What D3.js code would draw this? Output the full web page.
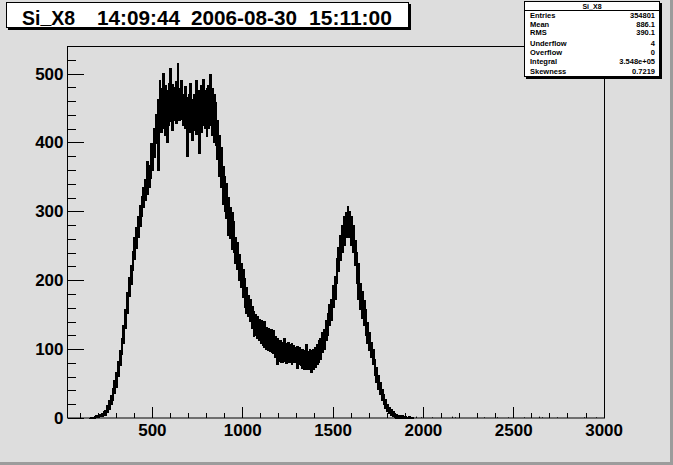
<!DOCTYPE html>
<html><head><meta charset="utf-8">
<script src="https://cdn.jsdelivr.net/npm/d3@7"></script>
<style>body{margin:0;background:#dddddd;overflow:hidden;} svg{display:block;}</style>
</head><body><svg id="c" width="673" height="465"></svg>
<script>
// ---------- data ----------
const binStart = 150;
const binWidth = 10;
// per-bin lower / upper envelope of the (finely binned) histogram band
const binLow = [
  0,0,0,0,1,1,2,2,4,3,
  8,13,19,26,35,44,60,76,92,108,
  130,152,176,194,214,230,246,262,278,292,
  305,316,325,335,347,360,378,398,360,430,
  415,420,410,400,425,430,418,432,428,435,
  432,433,425,420,379,420,415,403,418,412,
  420,384,415,425,420,408,420,425,410,400,
  395,375,350,335,310,300,290,265,260,245,
  240,225,215,200,190,175,160,152,148,140,
  130,118,120,115,112,108,105,103,100,98,
  96,95,93,88,78,82,80,80,82,79,
  80,80,78,80,80,72,78,76,72,70,
  71,70,72,66,71,73,78,80,85,95,
  99,112,120,135,142,160,172,195,212,228,
  240,250,262,268,262,250,240,222,195,172,
  158,145,135,120,108,98,88,78,62,52,
  42,34,26,19,14,10,6,4,2,1,
  0,0,0,0,0,0,0,0,0,0
];
const binHigh = [
  0,1,1,2,3,4,5,7,9,11,
  18,26,33,43,54,66,82,98,116,134,
  158,182,204,222,242,262,276,292,308,322,
  334,346,372,366,398,398,420,440,462,490,
  478,500,482,476,485,507,484,480,488,514,
  478,490,470,481,465,470,486,462,470,490,
  468,476,482,491,475,478,483,499,478,470,
  458,432,410,392,365,350,340,320,305,298,
  285,262,255,238,225,215,203,190,178,172,
  162,155,150,147,143,142,138,140,132,130,
  128,129,127,118,115,113,112,110,116,108,
  110,106,108,105,103,104,103,100,99,98,
  106,96,99,98,100,102,106,112,116,124,
  128,142,152,165,172,192,205,232,248,265,
  280,293,298,307,300,292,280,258,240,225,
  195,184,170,157,138,124,110,100,85,74,
  62,52,42,34,27,20,15,12,9,7,
  5,4,3,3,2,2,1,2,1,1
];
// sparse tail entries beyond the second peak
const tailBins   = [1960,1990,2050,2160,2180,2200,2300,2340,2410,2470,2560,2640,2660,2740,2800,2890,2960];
const tailCounts = [2,1,1,2,1,2,2,1,1,1,1,2,1,1,1,1,1];

const xMajor = [500,1000,1500,2000,2500,3000];
const xMinor = [100,200,300,400,600,700,800,900,1100,1200,1300,1400,1600,1700,1800,1900,2100,2200,2300,2400,2600,2700,2800,2900];
const yMajor = [0,100,200,300,400,500];
const yMinor = [20,40,60,80,120,140,160,180,220,240,260,280,320,340,360,380,420,440,460,480,520];

const titleParts = ["Si_X8","14:09:44","2006-08-30","15:11:00"];
const titleX = [22,97,191,309];
const titleW = [53,83,106,83];
const statsTitle = "Si_X8";
const statsNames  = ["Entries","Mean","RMS","Underflow","Overflow","Integral","Skewness"];
const statsValues = ["354801","886.1","390.1","4","0","3.548e+05","0.7219"];
const statsRowY   = [18,26.5,35,46,54.5,63.5,73.5];

// ---------- drawing ----------
const svg = d3.select("#c");
const W = 673, H = 465;
const font = "'Liberation Sans', Arial, Helvetica, sans-serif";

svg.append("rect").attr("width",W).attr("height",H).attr("fill","#dddddd");
// canvas border (dark bottom/right)
svg.append("rect").attr("x",W-3).attr("y",0).attr("width",3).attr("height",H).attr("fill","#9c9c9c");
svg.append("rect").attr("x",0).attr("y",H-3).attr("width",W).attr("height",3).attr("fill","#9c9c9c");

const x = d3.scaleLinear().domain([33,3005]).range([67.5,604.5]);
const y = d3.scaleLinear().domain([0,540]).range([418,46]);

// histogram band
const pts = binLow.map((lo,i)=>({v:binStart+i*binWidth, lo:lo, hi:binHigh[i]}));
pts.push({v:binStart+binLow.length*binWidth, lo:0, hi:0});
const area = d3.area().x(d=>x(d.v)).y0(d=>y(d.lo)).y1(d=>y(d.hi)).curve(d3.curveStepAfter);
svg.append("path").datum(pts).attr("d",area)
  .attr("fill","#000").attr("stroke","#000").attr("stroke-width",1)
  .attr("shape-rendering","crispEdges");

svg.append("g").selectAll("line").data(tailBins).join("line")
  .attr("x1",(d)=>Math.round(x(d))+0.5).attr("x2",(d)=>Math.round(x(d))+0.5)
  .attr("y1",y(0)).attr("y2",(d,i)=>y(tailCounts[i]))
  .attr("stroke","#000").attr("stroke-width",1);

// frame
svg.append("rect").attr("x",67.5).attr("y",46.5).attr("width",537).attr("height",371.5)
  .attr("fill","none").attr("stroke","#000").attr("stroke-width",1);

// axes
function styleAxis(g){
  g.select(".domain").remove();
  g.selectAll(".tick line").attr("stroke","#000").attr("shape-rendering","crispEdges");
  g.selectAll("text").attr("font-family",font).attr("font-weight","bold")
   .attr("font-size",17).attr("fill","#000");
}
svg.append("g").attr("transform","translate(0,418)")
  .call(d3.axisBottom(x).tickValues(xMajor).tickSizeInner(-11).tickSizeOuter(0).tickPadding(6).tickFormat(d3.format("d")))
  .call(styleAxis);
svg.append("g").attr("transform","translate(0,418)")
  .call(d3.axisBottom(x).tickValues(xMinor).tickSizeInner(-5.5).tickSizeOuter(0).tickFormat(""))
  .call(styleAxis);
svg.append("g").attr("transform","translate(67.5,0)")
  .call(d3.axisLeft(y).tickValues(yMajor).tickSizeInner(-16).tickSizeOuter(0).tickPadding(4).tickFormat(d3.format("d")))
  .call(styleAxis);
svg.append("g").attr("transform","translate(67.5,0)")
  .call(d3.axisLeft(y).tickValues(yMinor).tickSizeInner(-8).tickSizeOuter(0).tickFormat(""))
  .call(styleAxis);

// title box
svg.append("rect").attr("x",8).attr("y",4).attr("width",403).attr("height",26).attr("fill","#000");
svg.append("rect").attr("x",6.5).attr("y",2.5).attr("width",402).attr("height",25)
  .attr("fill","#fff").attr("stroke","#000").attr("stroke-width",1);
const tg = svg.append("g").attr("font-family",font).attr("font-weight","bold").attr("font-size",21).attr("fill","#000");
titleParts.forEach((t,i)=>{
  const el = tg.append("text").attr("x",titleX[i]).attr("y",25)
    .attr("textLength",titleW[i]).attr("lengthAdjust","spacingAndGlyphs");
  const k = t.indexOf("_");
  if(k<0){ el.text(t); }
  else {
    el.append("tspan").text(t.slice(0,k));
    el.append("tspan").attr("dy",-2.5).text("_");
    el.append("tspan").attr("dy",2.5).text(t.slice(k+1));
  }
});

// stats box
svg.append("rect").attr("x",526).attr("y",3).attr("width",136).attr("height",76).attr("fill","#000");
svg.append("rect").attr("x",524.5).attr("y",1.5).attr("width",135).attr("height",75)
  .attr("fill","#fff").attr("stroke","#000").attr("stroke-width",1);
svg.append("line").attr("x1",524.5).attr("x2",659.5).attr("y1",10.5).attr("y2",10.5).attr("stroke","#000");
svg.append("text").attr("x",592).attr("y",8.5).attr("text-anchor","middle")
  .attr("font-family",font).attr("font-weight","bold").attr("font-size",7).text(statsTitle);
const sg = svg.append("g").attr("font-family",font).attr("font-weight","bold").attr("font-size",7.5).attr("fill","#000");
sg.selectAll("text.n").data(statsNames).join("text").attr("class","n")
  .attr("x",530).attr("y",(d,i)=>statsRowY[i]).text(d=>d);
sg.selectAll("text.v").data(statsValues).join("text").attr("class","v")
  .attr("x",655).attr("y",(d,i)=>statsRowY[i]).attr("text-anchor","end").text(d=>d);
</script></body></html>
